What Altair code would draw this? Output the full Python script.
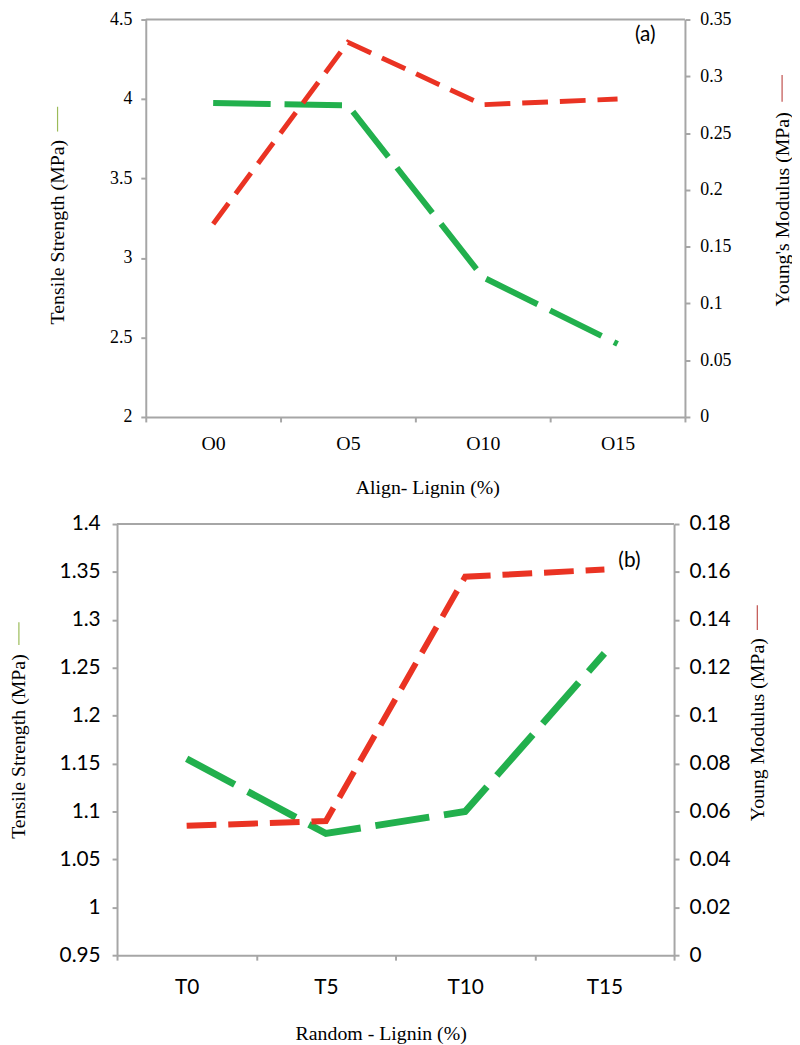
import altair as alt
import pandas as pd

# ---- panel (a) ----
cats_a = ["O0", "O5", "O10", "O15"]
tensile_a = [3.975, 3.96, 2.88, 2.46]
young_a = [0.17, 0.33, 0.275, 0.28]
ticks_left_a = [2, 2.5, 3, 3.5, 4, 4.5]
ticks_right_a = [0, 0.05, 0.1, 0.15, 0.2, 0.25, 0.3, 0.35]

# ---- panel (b) ----
cats_b = ["T0", "T5", "T10", "T15"]
tensile_b = [1.155, 1.077, 1.10, 1.265]
young_b = [0.054, 0.056, 0.158, 0.161]
ticks_left_b = [0.95, 1, 1.05, 1.1, 1.15, 1.2, 1.25, 1.3, 1.35, 1.4]
ticks_right_b = [0, 0.02, 0.04, 0.06, 0.08, 0.1, 0.12, 0.14, 0.16, 0.18]

GREEN = "#22b04d"
RED = "#ea3323"
AXIS = "#a6a6a6"
SERIF = "Liberation Serif"
SANS = "Lato"


def panel(cats, ts, ym, lt, rt, w, h, xtitle, ltitle, rtitle, tag, cfg):
    df = pd.DataFrame({"cat": cats, "ts": ts, "ym": ym})
    base = alt.Chart(df)
    x0 = cfg["x0"]
    x = alt.X(
        "cat:N", sort=cats,
        scale=alt.Scale(type="band", range=[x0, w], paddingInner=0, paddingOuter=0),
        axis=alt.Axis(
            title=xtitle, labelAngle=0, tickBand="extent",
            labelFont=cfg["tickfont"], labelFontSize=cfg["xls"],
            labelPadding=cfg["xlp"], titleFont=SERIF, titleFontSize=20,
            titleX=cfg["xtx"], titleY=cfg["xty"], titleBaseline="middle",
        ),
    )
    green = base.mark_line(
        color=GREEN, strokeWidth=cfg["gw"], strokeDash=cfg["gdash"]
    ).encode(
        x=x,
        y=alt.Y(
            "ts:Q", scale=alt.Scale(domain=[lt[0], lt[-1]], nice=False, zero=False),
            axis=alt.Axis(
                orient="left", offset=-x0, values=lt, format=".2~f", title=ltitle,
                labelFont=cfg["tickfont"], labelFontSize=cfg["yls"],
                labelPadding=cfg["llp"], titleFont=SERIF, titleFontSize=20,
                titleAngle=-90, titleX=cfg["ltx"], titleY=cfg["lty"],
                titleBaseline="middle", titleAlign="center",
            ),
        ),
    )
    red = base.mark_line(
        color=RED, strokeWidth=cfg["rw"], strokeDash=cfg["rdash"]
    ).encode(
        x=x,
        y=alt.Y(
            "ym:Q", scale=alt.Scale(domain=[rt[0], rt[-1]], nice=False, zero=False),
            axis=alt.Axis(
                orient="right", values=rt, format=".2~f", title=rtitle,
                labelFont=cfg["tickfont"], labelFontSize=cfg["yls"],
                labelPadding=cfg["rlp"], titleFont=SERIF, titleFontSize=20,
                titleAngle=-90, titleX=cfg["rtx"], titleY=cfg["rty"],
                titleBaseline="middle", titleAlign="center",
            ),
        ),
    )
    one = alt.Chart(pd.DataFrame({"k": [0]}))
    frame_top = one.mark_rule(color=AXIS, strokeWidth=2).encode(
        x=alt.value(x0), x2=alt.value(w), y=alt.value(0)
    )
    dash_l = one.mark_rule(color="#9bbb59", strokeWidth=1.2).encode(
        x=alt.value(cfg["ldx"]), y=alt.value(cfg["ldy"][0]), y2=alt.value(cfg["ldy"][1])
    )
    dash_r = one.mark_rule(color="#c0504d", strokeWidth=1.2).encode(
        x=alt.value(cfg["rdx"]), y=alt.value(cfg["rdy"][0]), y2=alt.value(cfg["rdy"][1])
    )
    label = one.mark_text(font=SANS, fontSize=21, color="black").encode(
        x=alt.value(cfg["tagxy"][0]), y=alt.value(cfg["tagxy"][1]), text=alt.value(tag)
    )
    spacer = one.mark_rule(color="white", strokeWidth=1).encode(
        x=alt.value(-109), x2=alt.value(-108), y=alt.value(h / 2)
    )
    return (
        alt.layer(green, red, frame_top, dash_l, dash_r, label, spacer)
        .resolve_scale(y="independent")
        .properties(width=w, height=h)
    )


# plot origin of both panels sits at page x = 117
top = panel(
    cats_a, tensile_a, young_a, ticks_left_a, ticks_right_a, 573, 401,
    "Align- Lignin (%)", "Tensile Strength (MPa)", "Young's Modulus (MPa)", "(a)",
    dict(x0=29, tickfont=SERIF, xls=20, yls=18, xlp=12, llp=9, rlp=10,
         xtx=313, xty=71, ltx=-89, lty=214, rtx=98, rty=191,
         gw=6, gdash=[58, 14], rw=5, rdash=[26, 12],
         ldx=-60, ldy=(88, 113), rdx=671, rdy=(56, 83),
         tagxy=(533, 16)),
)
bottom = panel(
    cats_b, tensile_b, young_b, ticks_left_b, ticks_right_b, 562, 435,
    "Random - Lignin (%)", "Tensile Strength (MPa)", "Young Modulus (MPa)", "(b)",
    dict(x0=0, tickfont=SANS, xls=21, yls=21, xlp=17, llp=12, rlp=10,
         xtx=266, xty=79, ltx=-99, lty=224, rtx=84, rty=207,
         gw=7, gdash=[55, 15], rw=6, rdash=[30, 12],
         ldx=-99, ldy=(99, 122), rdx=646, rdy=(82, 107),
         tagxy=(517, 37)),
)

chart = (
    alt.vconcat(top, bottom, spacing=16)
    .properties(padding={"left": 0, "top": -2, "right": 0, "bottom": 0})
    .configure_view(strokeWidth=0)
    .configure_axis(
        domainColor=AXIS, domainWidth=2, tickColor=AXIS, tickWidth=2, tickSize=5,
        grid=False, labelColor="black", titleColor="black", titleFontWeight="normal",
    )
)

chart.save("out.html", embed_options={"renderer": "svg", "actions": False})
